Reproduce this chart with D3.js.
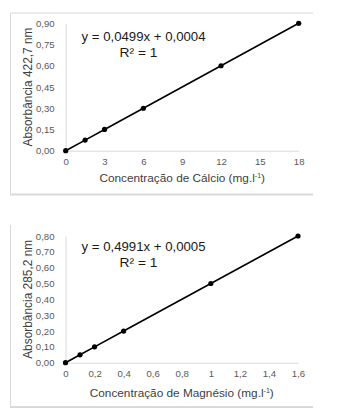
<!DOCTYPE html>
<html>
<head>
<meta charset="utf-8">
<script src="https://cdn.jsdelivr.net/npm/d3@7"></script>
<style>
  html, body { margin: 0; padding: 0; background: #fff; }
  svg { display: block; font-family: "Liberation Sans", Arial, sans-serif; }
</style>
</head>
<body>
<svg id="chart" width="344" height="412"></svg>
<script>
// ---- Data ----
const caConc = [0, 1.5, 3, 6, 12, 18];
const caAbs = [0, 0.075, 0.15, 0.30, 0.60, 0.90];
const caXTicks = [0, 3, 6, 9, 12, 15, 18];
const caYTicks = [0, 0.15, 0.30, 0.45, 0.60, 0.75, 0.90];

const mgConc = [0, 0.1, 0.2, 0.4, 1.0, 1.6];
const mgAbs = [0, 0.05, 0.10, 0.20, 0.50, 0.80];
const mgXTicks = [0, 0.2, 0.4, 0.6, 0.8, 1.0, 1.2, 1.4, 1.6];
const mgYTicks = [0, 0.10, 0.20, 0.30, 0.40, 0.50, 0.60, 0.70, 0.80];

const caYTitle = "Absorbância 422,7 nm";
const mgYTitle = "Absorbância 285,2 nm";
const caXTitle = "Concentração de Cálcio (mg.l";
const mgXTitle = "Concentração de Magnésio (mg.l";
const caEq = "y = 0,0499x + 0,0004";
const mgEq = "y = 0,4991x + 0,0005";
const r2Text = "R² = 1";

const svg = d3.select("#chart");
const fmtComma = d => d3.format(".2f")(d).replace(".", ",");
const fmtX = d => String(+d.toFixed(1)).replace(".", ",");

function panel(cfg) {
  const g = svg.append("g");
  // frame lines
  const border = "#d9d9d9";
  if (cfg.topBorder) g.append("line").attr("x1", 10.5).attr("x2", 313).attr("y1", cfg.frameTop).attr("y2", cfg.frameTop).attr("stroke", border);
  g.append("line").attr("x1", 10.5).attr("x2", 10.5).attr("y1", cfg.frameTop).attr("y2", cfg.frameBottom).attr("stroke", border);
  g.append("line").attr("x1", 10).attr("x2", 313).attr("y1", cfg.frameBottom).attr("y2", cfg.frameBottom).attr("stroke", border).attr("stroke-width", 2);

  const x = d3.scaleLinear().domain(cfg.xDomain).range(cfg.xRange);
  const y = d3.scaleLinear().domain(cfg.yDomain).range(cfg.yRange);

  const xAxis = g.append("g").attr("transform", `translate(0,${cfg.yRange[0]})`)
    .call(d3.axisBottom(x).tickValues(cfg.xTicks).tickSize(0).tickPadding(7.5).tickFormat(cfg.xFmt));
  const yAxis = g.append("g").attr("transform", `translate(${cfg.xRange[0]},0)`)
    .call(d3.axisLeft(y).tickValues(cfg.yTicks).tickSize(0).tickPadding(11).tickFormat(fmtComma));
  [xAxis, yAxis].forEach(a => {
    a.select(".domain").attr("stroke", "#d9d9d9").attr("stroke-width", 1);
    a.selectAll("text").attr("fill", "#595959").attr("font-size", "9.6px")
      .attr("font-family", "'Liberation Sans', Arial, sans-serif");
  });

  // y title
  g.append("text")
    .attr("transform", `translate(27.5,${(cfg.yRange[0] + cfg.yRange[1]) / 2}) rotate(-90)`)
    .attr("text-anchor", "middle").attr("dy", "0.35em")
    .attr("font-size", "11.9px").attr("fill", "#404040")
    .text(cfg.yTitle);

  // x title with superscript
  const xt = g.append("text")
    .attr("x", (cfg.xRange[0] + cfg.xRange[1]) / 2).attr("y", cfg.xTitleY)
    .attr("text-anchor", "middle").attr("font-size", "11.8px").attr("fill", "#404040");
  xt.append("tspan").text(cfg.xTitle);
  xt.append("tspan").attr("font-size", "7px").attr("dy", "-4").text("-1");
  xt.append("tspan").attr("dy", "4").text(")");

  // line + points
  const pts = cfg.xs.map((v, i) => [v, cfg.ys[i]]);
  g.append("path").datum(pts)
    .attr("fill", "none").attr("stroke", "#000").attr("stroke-width", 1.6)
    .attr("d", d3.line().x(d => x(d[0])).y(d => y(d[1])));
  g.selectAll("circle.pt").data(pts).enter().append("circle")
    .attr("class", "pt")
    .attr("cx", d => x(d[0])).attr("cy", d => y(d[1])).attr("r", 2.6).attr("fill", "#000");

  // equation text (slightly stretched horizontally like the source)
  g.append("text")
    .attr("transform", `translate(${cfg.eqX},${cfg.eqY}) scale(1.1,1)`)
    .attr("text-anchor", "middle").attr("font-size", "12px").attr("fill", "#1a1a1a")
    .text(cfg.eq);
  g.append("text")
    .attr("transform", `translate(${cfg.r2X},${cfg.eqY + 15.5}) scale(1.15,1)`)
    .attr("text-anchor", "middle").attr("font-size", "12px").attr("fill", "#1a1a1a")
    .text(r2Text);
}

panel({
  topBorder: true, frameTop: 13, frameBottom: 194.5,
  xDomain: [0, 18], xRange: [65.7, 298.7],
  yDomain: [0, 0.9], yRange: [150.7, 23.3],
  xTicks: caXTicks, yTicks: caYTicks, xFmt: d => String(d),
  xs: caConc, ys: caAbs,
  yTitle: caYTitle, xTitle: caXTitle, xTitleY: 181.5,
  eq: caEq, eqX: 143.5, eqY: 41, r2X: 138.5
});

panel({
  topBorder: false, frameTop: 225, frameBottom: 407,
  xDomain: [0, 1.6], xRange: [65.5, 298],
  yDomain: [0, 0.8], yRange: [362.7, 236],
  xTicks: mgXTicks, yTicks: mgYTicks, xFmt: fmtX,
  xs: mgConc, ys: mgAbs,
  yTitle: mgYTitle, xTitle: mgXTitle, xTitleY: 396.5,
  eq: mgEq, eqX: 143.5, eqY: 251, r2X: 138.5
});
</script>
</body>
</html>
